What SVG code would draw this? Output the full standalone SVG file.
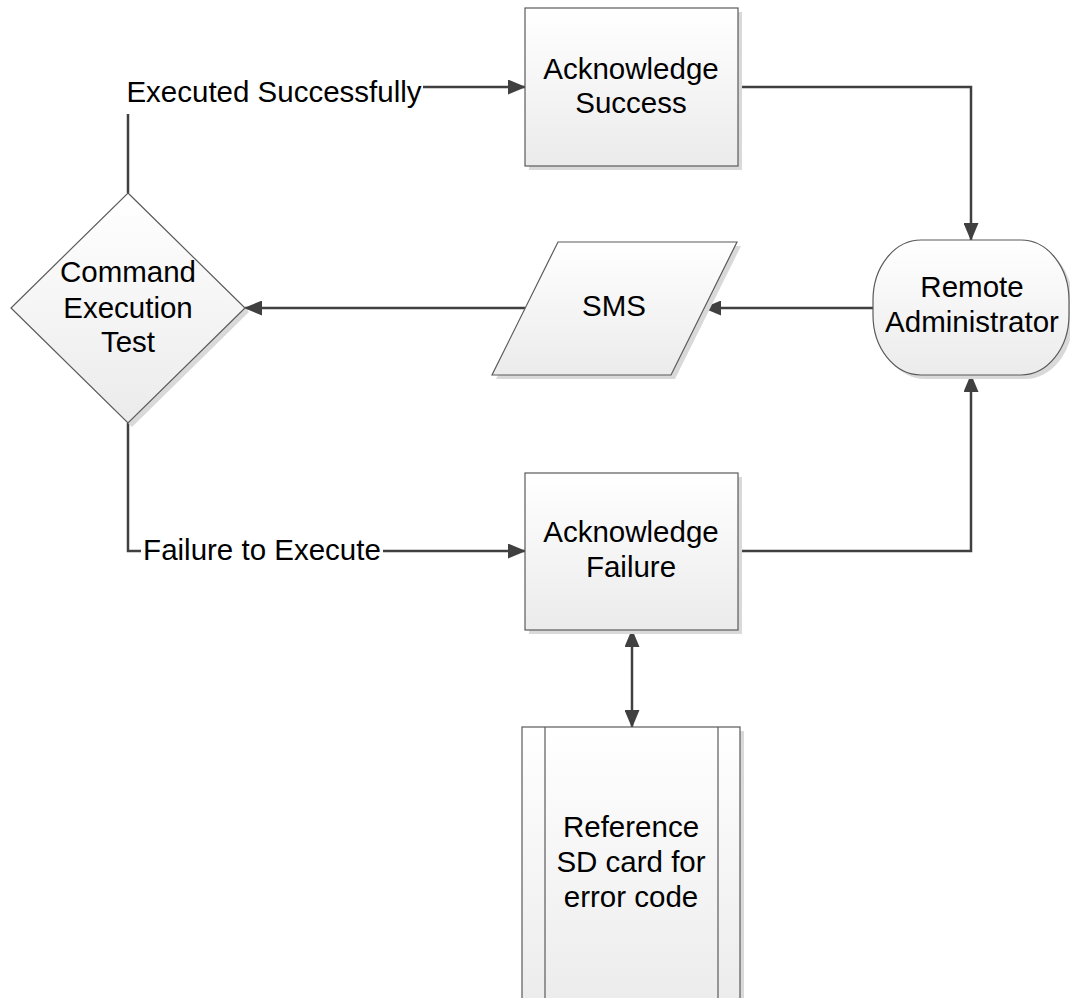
<svg xmlns="http://www.w3.org/2000/svg" width="1070" height="998" viewBox="0 0 1070 998">
<defs>
<linearGradient id="g" x1="0" y1="0" x2="0" y2="1">
<stop offset="0" stop-color="#ffffff"/>
<stop offset="1" stop-color="#ebebeb"/>
</linearGradient>
<marker id="arr" markerUnits="userSpaceOnUse" markerWidth="18" markerHeight="15" refX="17" refY="7.5" orient="auto-start-reverse">
<path d="M0,0 L18,7.5 L0,15 z" fill="#404040"/>
</marker>
</defs>
<style>
.shape{fill:url(#g);stroke:#5a5a5a;stroke-width:1.2}
.shadow{fill:#d9d9d9}
.conn{fill:none;stroke:#404040;stroke-width:2.5}
.t{font-family:"Liberation Sans",Arial,sans-serif;font-size:29.5px;fill:#000;text-anchor:middle}
.bg{fill:#ffffff}
</style>
<rect width="1070" height="998" fill="#ffffff"/>

<g id="connectors">
<path class="conn" d="M128,193 L128,87 L525,87" marker-end="url(#arr)"/>
<rect class="bg" x="123" y="70" width="300" height="44"/>
<text class="t" x="274" y="102">Executed Successfully</text>
<path class="conn" d="M128,423 L128,551 L525,551" marker-end="url(#arr)"/>
<rect class="bg" x="141" y="532" width="242" height="36"/>
<text class="t" x="262" y="560">Failure to Execute</text>
<path class="conn" d="M738,87 L971,87 L971,240" marker-end="url(#arr)"/>
<path class="conn" d="M873,308 L704,308" marker-end="url(#arr)"/>
<path class="conn" d="M525,308 L245,308" marker-end="url(#arr)"/>
<path class="conn" d="M738,551 L971,551 L971,375" marker-end="url(#arr)"/>
<path class="conn" d="M632,630 L632,727" marker-start="url(#arr)" marker-end="url(#arr)"/>
</g>

<g id="ack-success">
<rect class="shadow" x="529" y="12" width="213" height="158"/>
<rect class="shape" x="525" y="8" width="213" height="158"/>
<text class="t" x="631" y="79">Acknowledge</text>
<text class="t" x="631" y="113">Success</text>
</g>

<g id="remote-admin">
<rect class="shadow" x="877" y="244" width="196" height="135" rx="48" ry="60"/>
<rect class="shape" x="873" y="240" width="196" height="135" rx="48" ry="60"/>
<text class="t" x="972" y="297">Remote</text>
<text class="t" x="972" y="332">Administrator</text>
</g>

<g id="sms">
<polygon class="shadow" points="562,246 741,246 675,379 496,379"/>
<polygon class="shape" points="558,242 737,242 671,375 492,375"/>
<text class="t" x="614" y="316">SMS</text>
</g>

<g id="decision">
<polygon class="shadow" points="132,197 249,312 132,427 15,312"/>
<polygon class="shape" points="128,193 245,308 128,423 11,308"/>
<text class="t" x="128" y="282">Command</text>
<text class="t" x="128" y="318">Execution</text>
<text class="t" x="128" y="352">Test</text>
</g>

<g id="ack-failure">
<rect class="shadow" x="529" y="477" width="213" height="157"/>
<rect class="shape" x="525" y="473" width="213" height="157"/>
<text class="t" x="631" y="542">Acknowledge</text>
<text class="t" x="631" y="577">Failure</text>
</g>

<g id="reference-sd">
<rect class="shadow" x="526" y="731" width="218" height="290"/>
<rect class="shape" x="522" y="727" width="218" height="290"/>
<line x1="545" y1="727" x2="545" y2="1017" stroke="#5a5a5a" stroke-width="1.2"/>
<line x1="718" y1="727" x2="718" y2="1017" stroke="#5a5a5a" stroke-width="1.2"/>
<text class="t" x="631" y="837">Reference</text>
<text class="t" x="631" y="872">SD card for</text>
<text class="t" x="631" y="907">error code</text>
</g>
</svg>
